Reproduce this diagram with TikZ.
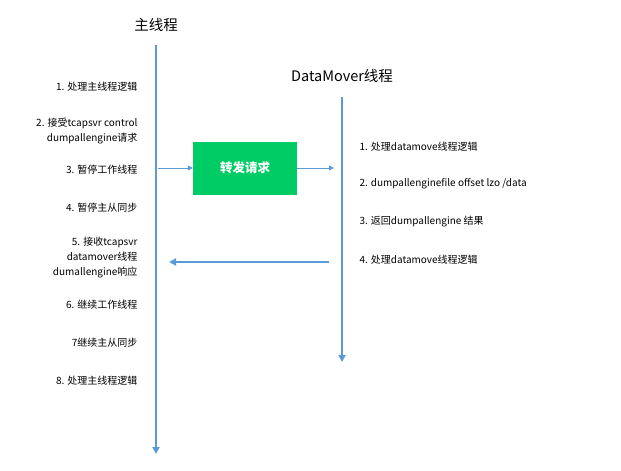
\documentclass[tikz,border=0pt]{standalone}
\usepackage{fontspec}
\setmainfont{Noto Sans CJK SC}
\usetikzlibrary{arrows.meta}
\definecolor{ln}{HTML}{5B9BD5}
\definecolor{gr}{HTML}{00CC66}
\begin{document}
\begin{tikzpicture}[x=1pt,y=-1pt,
  lt/.style={anchor=east,align=right,font=\fontsize{10}{15}\selectfont},
  rt/.style={anchor=west,font=\fontsize{10}{15}\selectfont},
  tl/.style={font=\fontsize{14.5}{17}\selectfont},
  vl/.style={draw=ln,line width=2pt,-{Triangle[length=7pt,width=7pt]}},
  ar/.style={draw=ln,line width=1pt,-{Triangle[length=5pt,width=5pt]}}]
\useasboundingbox (0,0) rectangle (621,471);
\node[tl] (t1) at (156,25) {主线程};
\node[tl] (t2) at (342,76) {DataMover线程};
\coordinate (a1) at (156,45); \coordinate (a2) at (156,454);
\coordinate (b1) at (342,97); \coordinate (b2) at (342,362);
\draw[vl] (a1) -- (a2);
\draw[vl] (b1) -- (b2);
\node[fill=gr,minimum width=104pt,minimum height=53pt,text=white,font=\fontsize{12.5}{14}\selectfont\bfseries] (g) at (245,168) {转发请求};
\coordinate (m1) at (158,168); \coordinate (d1) at (334,168);
\draw[ar] (m1) -- (g.west);
\draw[ar] (g.east) -- (d1);
\coordinate (r1) at (329,262); \coordinate (r2) at (169,262);
\draw[vl] (r1) -- (r2);
\node[lt] (l1) at (141,87) {1. 处理主线程逻辑};
\node[lt] (l2) at (141,131) {2. 接受tcapsvr control\\dumpallengine请求};
\node[lt] (l3) at (141,170) {3. 暂停工作线程};
\node[lt] (l4) at (141,208) {4. 暂停主从同步};
\node[lt] (l5) at (141,258) {5. 接收tcapsvr\\datamover线程\\dumallengine响应};
\node[lt] (l6) at (141,305) {6. 继续工作线程};
\node[lt] (l7) at (141,343) {7继续主从同步};
\node[lt] (l8) at (141,381) {8. 处理主线程逻辑};
\node[rt] (r1t) at (356,147) {1. 处理datamove线程逻辑};
\node[rt] (r2t) at (356,184) {2. dumpallenginefile offset lzo /data};
\node[rt] (r3t) at (356,222) {3. 返回dumpallengine 结果};
\node[rt] (r4t) at (356,260) {4. 处理datamove线程逻辑};
\end{tikzpicture}
\end{document}
